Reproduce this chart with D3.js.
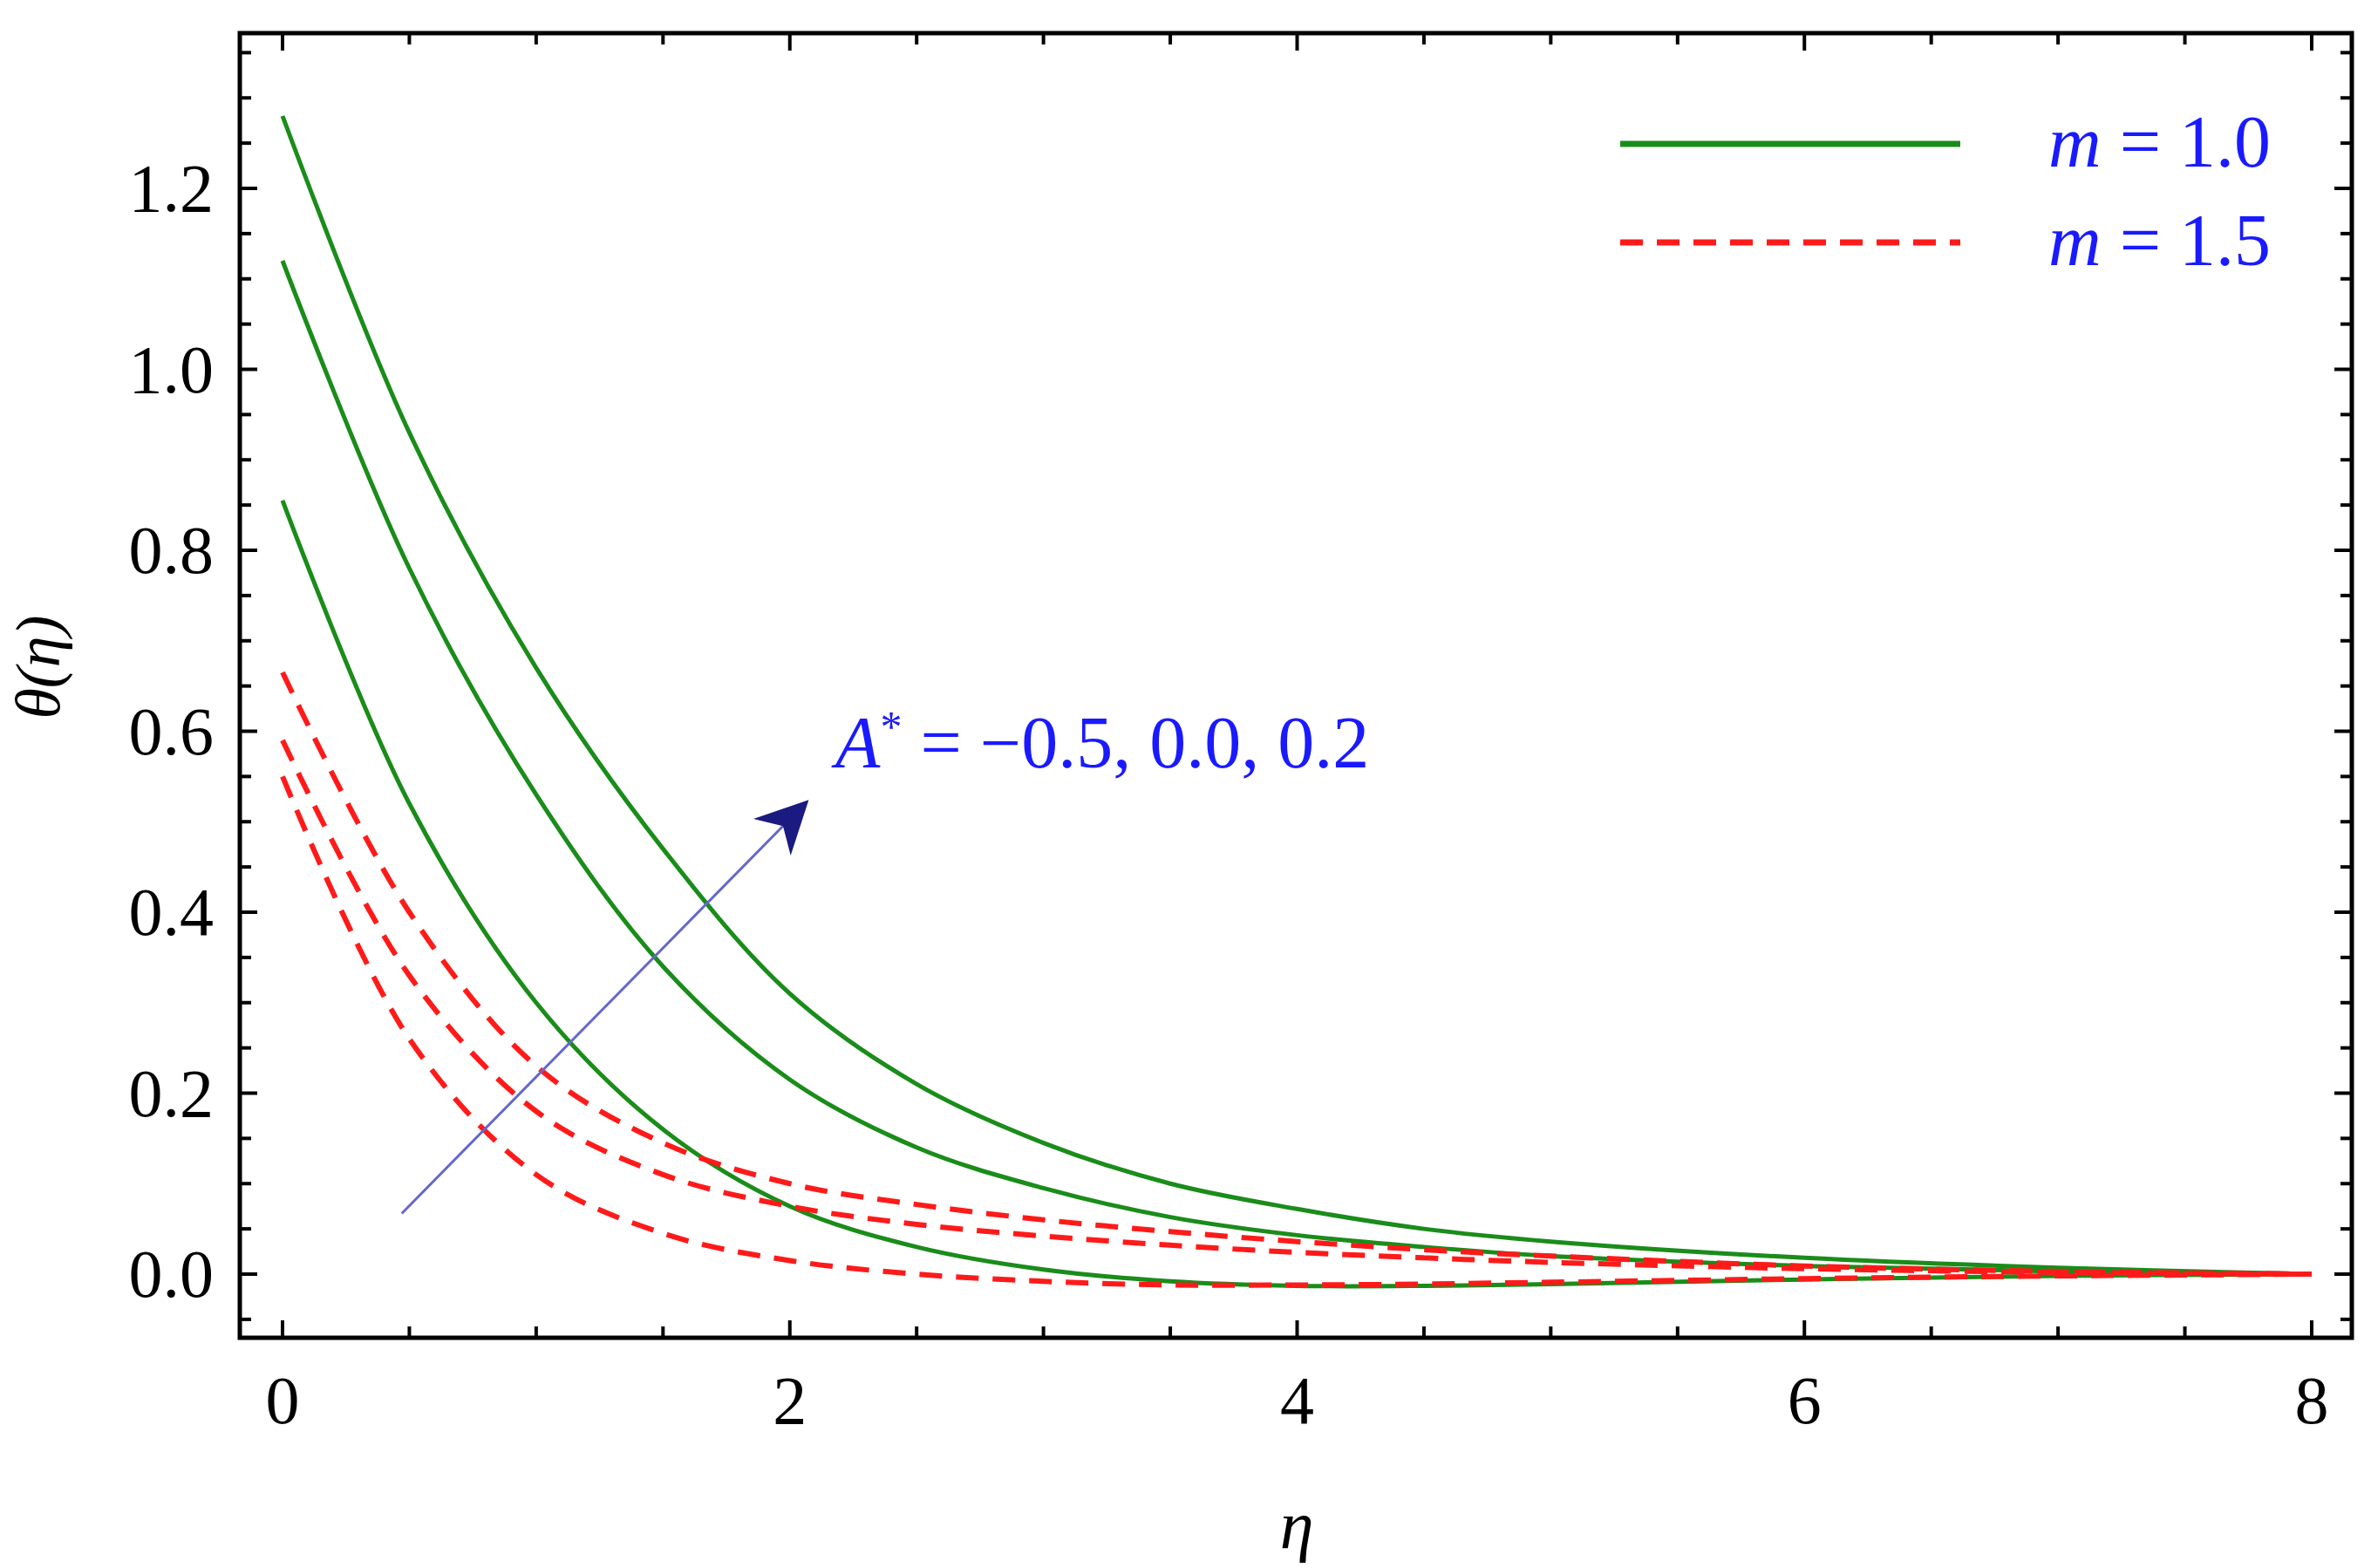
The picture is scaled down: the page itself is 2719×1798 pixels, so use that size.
<!DOCTYPE html>
<html><head><meta charset="utf-8">
<script src="https://cdn.jsdelivr.net/npm/d3@7"></script>
<style>body{margin:0;background:#fff}text{font-family:"Liberation Serif","Times New Roman",serif}</style>
</head><body><svg id="c" width="2719" height="1798"></svg>
<script>
const eta = [0,0.5,1,1.5,2,2.5,3,3.5,4,4.5,5,6,7,8];
const greenTop = [1.28,0.93,0.67,0.47,0.31,0.21,0.145,0.10,0.072,0.05,0.036,0.018,0.007,0];
const greenMid = [1.12,0.78,0.53,0.34,0.215,0.14,0.095,0.063,0.043,0.03,0.02,0.009,0.003,0];
const greenBot = [0.855,0.52,0.30,0.16,0.075,0.03,0.005,-0.008,-0.013,-0.013,-0.011,-0.006,-0.002,0];
const redTop = [0.665,0.40,0.23,0.145,0.10,0.077,0.06,0.047,0.036,0.027,0.02,0.009,0.003,0];
const redMid = [0.59,0.33,0.18,0.11,0.075,0.055,0.042,0.032,0.024,0.018,0.013,0.006,0.002,0];
const redBot = [0.55,0.26,0.11,0.045,0.015,0,-0.008,-0.012,-0.012,-0.011,-0.009,-0.005,-0.002,0];
const xTicks = [0,2,4,6,8];
const yTicks = [0,0.2,0.4,0.6,0.8,1.0,1.2];
const legendLabels = ["m = 1.0","m = 1.5"];

const svg = d3.select("#c");
const L=275,R=2697,T=38,B=1534;
const x = d3.scaleLinear().domain([0,8]).range([324,2651]);
const y = d3.scaleLinear().domain([0,1.2]).range([1461,216]);
const fs = 78;

const line = d3.line().x((d,i)=>x(eta[i])).y(d=>y(d)).curve(d3.curveCatmullRom.alpha(0.5));
[greenTop,greenMid,greenBot].forEach(s=>svg.append("path").attr("d",line(s)).attr("fill","none").attr("stroke","#1a8c1a").attr("stroke-width",5));
[redTop,redMid,redBot].forEach(s=>svg.append("path").attr("d",line(s)).attr("fill","none").attr("stroke","#ff1a1a").attr("stroke-width",6).attr("stroke-dasharray","26,16"));

svg.append("rect").attr("x",L).attr("y",T).attr("width",R-L).attr("height",B-T).attr("fill","none").attr("stroke","#000").attr("stroke-width",5);
const g = svg.append("g").attr("stroke","#000").attr("stroke-width",4);
d3.range(0,8.01,0.5).forEach(v=>{const maj=Math.abs(v%2)<1e-6, l=maj?20:13;
  g.append("line").attr("x1",x(v)).attr("x2",x(v)).attr("y1",B).attr("y2",B-l);
  g.append("line").attr("x1",x(v)).attr("x2",x(v)).attr("y1",T).attr("y2",T+l);});
d3.range(-0.05,1.36,0.05).forEach(v=>{const r=Math.round(v*100); if(r%5) return; const maj=r%20===0, l=maj?20:13;
  g.append("line").attr("x1",L).attr("x2",L+l).attr("y1",y(r/100)).attr("y2",y(r/100));
  g.append("line").attr("x1",R).attr("x2",R-l).attr("y1",y(r/100)).attr("y2",y(r/100));});
xTicks.forEach(v=>svg.append("text").attr("x",x(v)).attr("y",1632).attr("text-anchor","middle").attr("font-size",fs).text(v));
yTicks.forEach(v=>svg.append("text").attr("x",245).attr("y",y(v)+26).attr("text-anchor","end").attr("font-size",fs).text(v.toFixed(1)));
svg.append("text").attr("x",1487).attr("y",1775).attr("text-anchor","middle").attr("font-size",fs).attr("font-style","italic").text("η");
svg.append("text").attr("transform","translate(68,765) rotate(-90)").attr("text-anchor","middle").attr("font-size",fs-6).text("θ(η)").attr("font-style","italic");

const lg=[{c:"#1a8c1a",d:null,y:165},{c:"#ff1a1a",d:"26,16",y:278}];
lg.forEach((o,i)=>{svg.append("line").attr("x1",1858).attr("x2",2248).attr("y1",o.y).attr("y2",o.y).attr("stroke",o.c).attr("stroke-width",7).attr("stroke-dasharray",o.d);
  const t=svg.append("text").attr("x",2604).attr("y",o.y+26).attr("text-anchor","end").attr("font-size",84).attr("fill","#1a1aff");
  t.append("tspan").attr("font-style","italic").text("m");
  t.append("tspan").text(legendLabels[i].slice(1));});

svg.append("defs").append("marker").attr("id","ah").attr("viewBox","0 0 10 10").attr("refX",9).attr("refY",5).attr("markerWidth",60).attr("markerHeight",60).attr("markerUnits","userSpaceOnUse").attr("orient","auto")
  .append("path").attr("d","M0,0L10,5L0,10L3,5Z").attr("fill","#1a1a80");
svg.append("line").attr("x1",x(0.47)).attr("y1",y(0.067)).attr("x2",x(2.06)).attr("y2",y(0.52)).attr("stroke","#6666cc").attr("stroke-width",3).attr("marker-end","url(#ah)");
const at=svg.append("text").attr("x",x(2.18)).attr("y",y(0.56)).attr("font-size",84).attr("fill","#1a1aff");
at.append("tspan").attr("font-style","italic").text("A");
at.append("tspan").attr("dy",-30).attr("font-size",50).text("*");
at.append("tspan").attr("dy",30).text(" = −0.5, 0.0, 0.2");
</script></body></html>
